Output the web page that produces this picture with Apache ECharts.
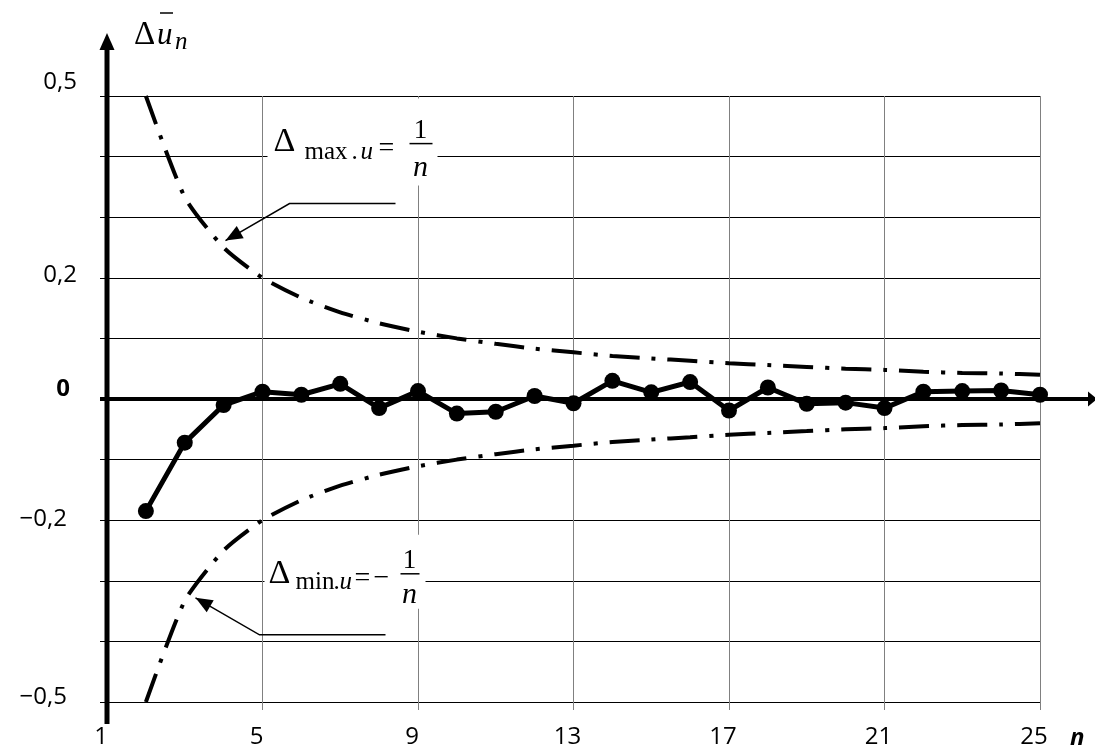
<!DOCTYPE html>
<html>
<head>
<meta charset="utf-8">
<script src="https://cdn.jsdelivr.net/npm/echarts@6/dist/echarts.min.js"></script>
<style>
  html, body { margin: 0; padding: 0; background: #fff; }
  #chart { width: 1095px; height: 751px; }
</style>
</head>
<body>
<div id="chart"></div>
<script>
// data
const nValues = [2, 3, 4, 5, 6, 7, 8, 9, 10, 11, 12, 13, 14, 15, 16, 17, 18, 19, 20, 21, 22, 23, 24, 25]
const measured = [-0.185, -0.072, -0.010, 0.012, 0.007, 0.025, -0.015, 0.013, -0.024, -0.021, 0.005, -0.007,
  0.030, 0.011, 0.028, -0.019, 0.019, -0.008, -0.006, -0.015, 0.012, 0.013, 0.014, 0.007]
const upperBound = [0.5, 0.333, 0.25, 0.2, 0.167, 0.143, 0.125, 0.111, 0.1, 0.091, 0.083, 0.077,
  0.071, 0.067, 0.063, 0.059, 0.056, 0.053, 0.05, 0.048, 0.045, 0.043, 0.042, 0.04]
const lowerBound = [-0.5, -0.333, -0.25, -0.2, -0.167, -0.143, -0.125, -0.111, -0.1, -0.091, -0.083, -0.077,
  -0.071, -0.067, -0.063, -0.059, -0.056, -0.053, -0.05, -0.048, -0.045, -0.043, -0.042, -0.04]
const yLabelValues = [0.5, 0.2, 0, -0.2, -0.5]
const yLabelTexts = ['0,5', '0,2', '0', '−0,2', '−0,5']
const xAxisName = 'n'

// label nudges (pixels): [shift up, shift left]
const yLabelNudge = [[14, 0], [3, 0], [10, 7], [1, 10], [5, 10]]

const SERIF = 'Liberation Serif'
const SANS = 'Open Sans'

const chart = echarts.init(document.getElementById('chart'))

const rich = {}
yLabelNudge.forEach((d, i) => {
  rich['s' + i] = {
    fontFamily: SANS,
    fontSize: 24,
    color: '#000',
    fontWeight: yLabelValues[i] === 0 ? 'bold' : 'normal',
    padding: [0, d[1], d[0] * 2, 0]
  }
})

const option = {
  animation: false,
  backgroundColor: '#fff',
  grid: { left: 107, right: 55, top: 96, bottom: 49 },
  xAxis: {
    type: 'value',
    min: 1,
    max: 25,
    interval: 4,
    position: 'bottom',
    axisLine: { show: false, onZero: false },
    axisTick: { show: true, length: 8, lineStyle: { color: '#808080' } },
    axisLabel: { margin: 23, fontFamily: SANS, fontSize: 24, color: '#000', padding: [0, 12, 0, 0] },
    splitLine: { show: true, lineStyle: { color: '#808080', width: 1 } }
  },
  yAxis: {
    type: 'value',
    min: -0.5,
    max: 0.5,
    interval: 0.1,
    axisLine: { show: false, onZero: false },
    axisTick: { show: true, length: 7, lineStyle: { color: '#000' } },
    axisLabel: {
      margin: 30,
      fontFamily: SANS,
      fontSize: 24,
      color: '#000',
      formatter: function (v) {
        const i = yLabelValues.findIndex(x => Math.abs(x - v) < 1e-6)
        if (i < 0) return ''
        return '{s' + i + '|' + yLabelTexts[i] + '}'
      },
      rich: rich
    },
    splitLine: { show: true, lineStyle: { color: '#000', width: 1 } }
  },
  series: [
    {
      name: 'max',
      type: 'line',
      data: nValues.map((n, i) => [n, upperBound[i]]),
      symbol: 'none',
      smooth: 0.2,
      lineStyle: { color: '#000', width: 4, type: [30, 12, 4, 12], cap: 'butt' },
      z: 3
    },
    {
      name: 'min',
      type: 'line',
      data: nValues.map((n, i) => [n, lowerBound[i]]),
      symbol: 'none',
      smooth: 0.2,
      lineStyle: { color: '#000', width: 4, type: [30, 12, 4, 12], cap: 'butt' },
      z: 3
    },
    {
      name: 'u',
      type: 'line',
      data: nValues.map((n, i) => [n, measured[i]]),
      symbol: 'circle',
      symbolSize: 16,
      itemStyle: { color: '#000' },
      lineStyle: { color: '#000', width: 5 },
      z: 10
    }
  ]
}

chart.setOption(option)

const px = p => chart.convertToPixel({ gridIndex: 0 }, p)

const arrowHead = (p0, p1, len, half) => {
  const dx = p1[0] - p0[0], dy = p1[1] - p0[1]
  const d = Math.sqrt(dx * dx + dy * dy)
  const ux = dx / d, uy = dy / d
  const bx = p1[0] - ux * len, by = p1[1] - uy * len
  return [[bx - uy * half, by + ux * half], p1, [bx + uy * half, by - ux * half]]
}

const txt = (x, y, text, size, opts) => {
  opts = opts || {}
  return {
    type: 'text', x: x, y: y, z: 7,
    style: {
      text: text,
      fontSize: size,
      fontFamily: opts.family || SERIF,
      fontStyle: opts.italic ? 'italic' : 'normal',
      fontWeight: opts.bold ? 'bold' : 'normal',
      fill: '#000',
      textAlign: opts.align || 'left',
      textVerticalAlign: 'middle'
    }
  }
}

const origin = px([1, 0])
const topLeft = px([1, 0.5])
const botLeft = px([1, -0.5])
const rightZero = px([25, 0])
const botRight = px([25, -0.5])
const upAnchor = px([5, 0.4])
const loAnchor = px([5, -0.3])

const upArrow = [[133, 47], [27, 47], [-37, 84]]
const loArrow = [[123, 54], [-3, 54], [-67, 17]]

chart.setOption({
  graphic: [
    // y axis with arrow
    { type: 'line', z: 8, shape: { x1: origin[0], y1: topLeft[1] - 48, x2: origin[0], y2: botLeft[1] + 22 },
      style: { stroke: '#000', lineWidth: 5 } },
    { type: 'polygon', z: 8, shape: { points: [[origin[0] - 7.5, topLeft[1] - 46], [origin[0], topLeft[1] - 63], [origin[0] + 7.5, topLeft[1] - 46]] },
      style: { fill: '#000' } },
    // x axis through zero with arrow
    { type: 'line', z: 8, shape: { x1: origin[0] - 7, y1: origin[1], x2: rightZero[0] + 50, y2: origin[1] },
      style: { stroke: '#000', lineWidth: 4 } },
    { type: 'polygon', z: 8, shape: { points: [[rightZero[0] + 48, origin[1] - 7.5], [rightZero[0] + 57, origin[1]], [rightZero[0] + 48, origin[1] + 7.5]] },
      style: { fill: '#000' } },
    // axis titles
    {
      type: 'group', x: topLeft[0], y: topLeft[1],
      children: [
        txt(27, -61, 'Δ', 33),
        txt(50, -60, 'u', 31, { italic: true }),
        { type: 'line', z: 7, shape: { x1: 53, y1: -83, x2: 66, y2: -83 }, style: { stroke: '#000', lineWidth: 1.5 } },
        txt(68, -54, 'n', 25, { italic: true })
      ]
    },
    txt(botRight[0] + 30, botRight[1] + 36, xAxisName, 24, { family: SANS, italic: true, bold: true }),
    // upper note
    {
      type: 'group', x: upAnchor[0], y: upAnchor[1],
      children: [
        { type: 'rect', z: 6, shape: { x: 5, y: -58, width: 170, height: 87 }, style: { fill: '#fff' } },
        txt(11, -15, 'Δ', 34),
        txt(42, -4, 'max', 25),
        txt(89, -4, '.', 25),
        txt(98, -4, 'u', 25, { italic: true }),
        txt(116, -8, '=', 28),
        txt(158, -26, '1', 27, { align: 'center' }),
        { type: 'line', z: 7, shape: { x1: 147, y1: -13, x2: 170, y2: -13 }, style: { stroke: '#000', lineWidth: 1.5 } },
        txt(158, 12, 'n', 30, { italic: true, align: 'center' }),
        { type: 'polyline', z: 7, shape: { points: upArrow }, style: { stroke: '#000', lineWidth: 1.5, fill: null } },
        { type: 'polygon', z: 7, shape: { points: arrowHead(upArrow[1], upArrow[2], 17, 7) }, style: { fill: '#000' } }
      ]
    },
    // lower note
    {
      type: 'group', x: loAnchor[0], y: loAnchor[1],
      children: [
        { type: 'rect', z: 6, shape: { x: 2, y: -46, width: 161, height: 74 }, style: { fill: '#fff' } },
        txt(6, -7, 'Δ', 34),
        txt(33, 2, 'min', 25),
        txt(71, 2, '.', 25),
        txt(77, 2, 'u', 25, { italic: true }),
        txt(92, -2, '=', 28),
        txt(111, -2, '−', 28),
        txt(147, -20, '1', 27, { align: 'center' }),
        { type: 'line', z: 7, shape: { x1: 138, y1: -7, x2: 157, y2: -7 }, style: { stroke: '#000', lineWidth: 1.5 } },
        txt(147, 14, 'n', 30, { italic: true, align: 'center' }),
        { type: 'polyline', z: 7, shape: { points: loArrow }, style: { stroke: '#000', lineWidth: 1.5, fill: null } },
        { type: 'polygon', z: 7, shape: { points: arrowHead(loArrow[1], loArrow[2], 17, 7) }, style: { fill: '#000' } }
      ]
    }
  ]
})

window.addEventListener('resize', () => chart.resize())
</script>
</body>
</html>
